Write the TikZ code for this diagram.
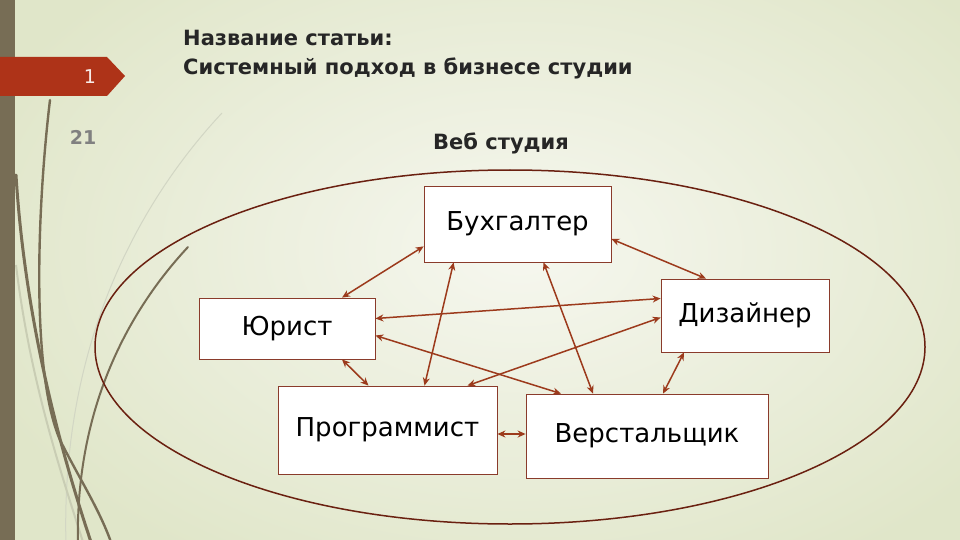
\documentclass[tikz,border=0pt]{standalone}
\usepackage{fontspec}
\setmainfont{DejaVu Sans}
\usetikzlibrary{arrows.meta,calc}
\definecolor{bgin}{HTML}{F6F7EF}
\definecolor{bgout}{HTML}{E0E6C9}
\definecolor{barcol}{HTML}{776D55}
\definecolor{decolight}{HTML}{C9CDB4}
\definecolor{decofaint}{HTML}{D2D6C4}
\definecolor{tabred}{HTML}{AE3318}
\definecolor{ellcol}{HTML}{6A2010}
\definecolor{boxline}{HTML}{8A3B2B}
\definecolor{arrcol}{HTML}{9C3A1C}
\definecolor{numgray}{HTML}{808080}
\definecolor{titlecol}{HTML}{262626}
\begin{document}
\begin{tikzpicture}[x=1pt,y=-1pt,
  rolebox/.style={draw=boxline, line width=0.8pt, fill=white, inner sep=0pt,
    font=\fontsize{26}{30}\selectfont},
  link/.style={draw=arrcol, line width=1.5pt,
    {Stealth[length=8pt,width=7pt]}-{Stealth[length=8pt,width=7pt]}},
  deco/.style={draw=barcol, line cap=round},
  titletext/.style={anchor=base west, inner sep=0pt, text=titlecol,
    font=\bfseries\fontsize{21}{25}\selectfont},
]
\useasboundingbox (0,0) rectangle (960,540);
\shade[inner color=bgin, outer color=bgout] (-60,-120) rectangle (1100,620);
% left bar
\fill[barcol] (0,0) rectangle (15,540);
% decorative curves
\draw[decofaint, line width=1pt] (222,113) .. controls (150,190) and (60,330) .. (66,545);
\draw[decolight, line width=2pt] (16,265) .. controls (30,380) and (60,470) .. (84,545);
\draw[deco, line width=2pt] (188,247) .. controls (120,320) and (75,420) .. (78,545);
\draw[deco, line width=3pt] (16,175) .. controls (25,320) and (60,450) .. (92,545);
\draw[deco, line width=2.4pt] (50,100) .. controls (38,200) and (30,370) .. (60,440) .. controls (80,480) and (100,510) .. (112,545);
% tab and numbers
\fill[tabred] (0,57) -- (107,57) -- (125,76) -- (107,96) -- (0,96) -- cycle;
\node[text=white!90!tabred, font=\fontsize{19}{22}\selectfont] (pg) at (90,77) {1};
\node[text=numgray, font=\bfseries\fontsize{19}{22}\selectfont] (num) at (83,137) {21};
% titles
\node[titletext] (t1) at (183,46) {Название статьи:};
\node[titletext] (t2) at (183,75) {Системный подход в бизнесе студии};
\node[titletext] (web) at (433,150) {Веб студия};
% ellipse
\draw[ellcol, line width=1.5pt] (510,347) ellipse [x radius=415pt, y radius=177pt];
% boxes
\node[rolebox, minimum width=187pt, minimum height=76pt] (bux) at (517.5,224) {Бухгалтер};
\node[rolebox, minimum width=176pt, minimum height=61pt] (yur) at (287,328.5) {Юрист};
\node[rolebox, minimum width=168pt, minimum height=73pt] (diz) at (745,315.5) {Дизайнер};
\node[rolebox, minimum width=219pt, minimum height=88pt] (prog) at (387.5,430) {Программист};
\node[rolebox, minimum width=242pt, minimum height=84pt] (verst) at (647,436) {Верстальщик};
% links
\draw[link] ([yshift=16pt]bux.south west) -- ([xshift=55pt]yur.north);
\draw[link] ([xshift=30pt]bux.south west) -- ([xshift=37pt]prog.north);
\draw[link] ([xshift=26pt]bux.south) -- ([xshift=-54pt]verst.north);
\draw[link] ([yshift=-15pt]bux.east) -- ([xshift=-39pt]diz.north);
\draw[link] ([yshift=10pt]yur.east) -- ([yshift=17pt]diz.west);
\draw[link] ([yshift=-7pt]yur.east) -- ([xshift=-86pt]verst.north);
\draw[link] ([xshift=55pt]yur.south) -- ([xshift=-19pt]prog.north);
\draw[link] ([yshift=-2pt]diz.west) -- ([xshift=80pt]prog.north);
\draw[link] ([xshift=-61pt]diz.south) -- ([xshift=16pt]verst.north);
\draw[link] ([yshift=-4pt]prog.east) -- ([yshift=2pt]verst.west);
\end{tikzpicture}
\end{document}
